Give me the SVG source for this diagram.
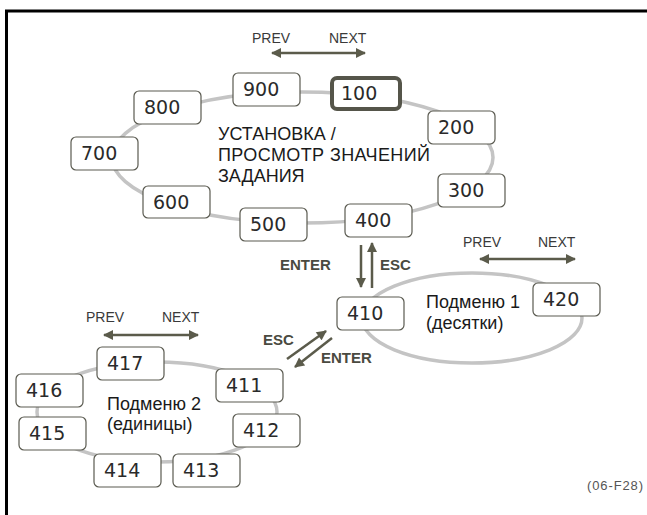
<svg xmlns="http://www.w3.org/2000/svg" width="647" height="515" viewBox="0 0 647 515">
<style>
.bx{fill:#fff;stroke:#5a5a50;stroke-width:1.2}
.num{font-family:"DejaVu Sans",sans-serif;font-size:19px;fill:#2a2a2a}
.ring{fill:none;stroke:#c4c4c4;stroke-width:3.5}
.arr{stroke:#5b5b4b;stroke-width:2.5;fill:none}
.pn{font-family:"Liberation Sans",Arial,sans-serif;font-size:14px;fill:#3a3a3a}
.key{font-family:"Liberation Sans",Arial,sans-serif;font-size:15px;font-weight:bold;fill:#4a4a40}
.lbl{font-family:"Liberation Sans",Arial,sans-serif;font-size:18px;fill:#1a1a1a}
</style>
<defs>
<marker id="ah" viewBox="0 0 10 10" refX="9" refY="5" markerUnits="userSpaceOnUse" markerWidth="11" markerHeight="10" orient="auto-start-reverse">
<path d="M0,0 L10,5 L0,10 z" fill="#5b5b4b"/>
</marker>
</defs>
<rect width="647" height="515" fill="#fff"/>
<path d="M6.5,515 V11 H647" fill="none" stroke="#000" stroke-width="3"/>
<g id="connectors">
<ellipse class="ring" cx="302.5" cy="157.5" rx="190.5" ry="65.5"/>
<ellipse class="ring" cx="472" cy="318" rx="110" ry="45"/>
<ellipse class="ring" cx="157" cy="412" rx="120" ry="50"/>
<line class="arr" x1="272" y1="53" x2="365" y2="53" marker-start="url(#ah)" marker-end="url(#ah)"/>
<line class="arr" x1="480" y1="259" x2="575" y2="259" marker-start="url(#ah)" marker-end="url(#ah)"/>
<line class="arr" x1="104" y1="335" x2="198" y2="335" marker-start="url(#ah)" marker-end="url(#ah)"/>
<line class="arr" x1="361" y1="245" x2="361" y2="287" marker-end="url(#ah)"/>
<line class="arr" x1="372" y1="288" x2="372" y2="243" marker-end="url(#ah)"/>
<line class="arr" x1="287" y1="359" x2="326" y2="331" marker-end="url(#ah)"/>
<line class="arr" x1="332" y1="338" x2="295" y2="367" marker-end="url(#ah)"/>
</g>
<g id="labels">
<text class="pn" x="252" y="43">PREV</text>
<text class="pn" x="329" y="43">NEXT</text>
<text class="pn" x="463" y="247">PREV</text>
<text class="pn" x="538" y="247">NEXT</text>
<text class="pn" x="86" y="322">PREV</text>
<text class="pn" x="162" y="322">NEXT</text>
<text class="key" x="280" y="270">ENTER</text>
<text class="key" x="380" y="270">ESC</text>
<text class="key" x="263" y="345">ESC</text>
<text class="key" x="321" y="363">ENTER</text>
<text class="lbl" x="218" y="140">УСТАНОВКА /</text>
<text class="lbl" x="218" y="161" textLength="212">ПРОСМОТР ЗНАЧЕНИЙ</text>
<text class="lbl" x="218" y="182">ЗАДАНИЯ</text>
<text class="lbl" x="426" y="308">Подменю 1</text>
<text class="lbl" x="426" y="329">(десятки)</text>
<text class="lbl" x="107" y="410">Подменю 2</text>
<text class="lbl" x="107" y="430">(единицы)</text>
<text x="587" y="490" font-family="Liberation Sans, Arial, sans-serif" font-size="13" fill="#555" textLength="56">(06-F28)</text>
</g>
<g id="n900"><rect class="bx" x="233" y="73" width="67" height="33" rx="5"/><text class="num" x="243" y="96">900</text></g>
<g id="n100"><rect x="332" y="78" width="68" height="31" rx="5" fill="#fff" stroke="#55554a" stroke-width="4"/><text class="num" x="341" y="100">100</text></g>
<g id="n800"><rect class="bx" x="134" y="91" width="67" height="33" rx="5"/><text class="num" x="144" y="114">800</text></g>
<g id="n200"><rect class="bx" x="428" y="111" width="67" height="33" rx="5"/><text class="num" x="438" y="134">200</text></g>
<g id="n700"><rect class="bx" x="71" y="137" width="67" height="33" rx="5"/><text class="num" x="81" y="160">700</text></g>
<g id="n300"><rect class="bx" x="438" y="174" width="67" height="33" rx="5"/><text class="num" x="448" y="197">300</text></g>
<g id="n600"><rect class="bx" x="143" y="186" width="67" height="32" rx="5"/><text class="num" x="153" y="209">600</text></g>
<g id="n500"><rect class="bx" x="240" y="208" width="67" height="33" rx="5"/><text class="num" x="250" y="231">500</text></g>
<g id="n400"><rect class="bx" x="345" y="204" width="67" height="33" rx="5"/><text class="num" x="355" y="227">400</text></g>
<g id="n410"><rect class="bx" x="337" y="297" width="67" height="33" rx="5"/><text class="num" x="347" y="320">410</text></g>
<g id="n420"><rect class="bx" x="533" y="283" width="67" height="33" rx="5"/><text class="num" x="543" y="306">420</text></g>
<g id="n417"><rect class="bx" x="97" y="347" width="67" height="33" rx="5"/><text class="num" x="107" y="370">417</text></g>
<g id="n416"><rect class="bx" x="16" y="374" width="67" height="33" rx="5"/><text class="num" x="26" y="397">416</text></g>
<g id="n411"><rect class="bx" x="216" y="369" width="67" height="33" rx="5"/><text class="num" x="226" y="392">411</text></g>
<g id="n415"><rect class="bx" x="19" y="417" width="67" height="33" rx="5"/><text class="num" x="29" y="440">415</text></g>
<g id="n412"><rect class="bx" x="233" y="414" width="67" height="33" rx="5"/><text class="num" x="243" y="437">412</text></g>
<g id="n414"><rect class="bx" x="94" y="454" width="67" height="33" rx="5"/><text class="num" x="104" y="477">414</text></g>
<g id="n413"><rect class="bx" x="173" y="454" width="67" height="33" rx="5"/><text class="num" x="183" y="477">413</text></g>
</svg>
